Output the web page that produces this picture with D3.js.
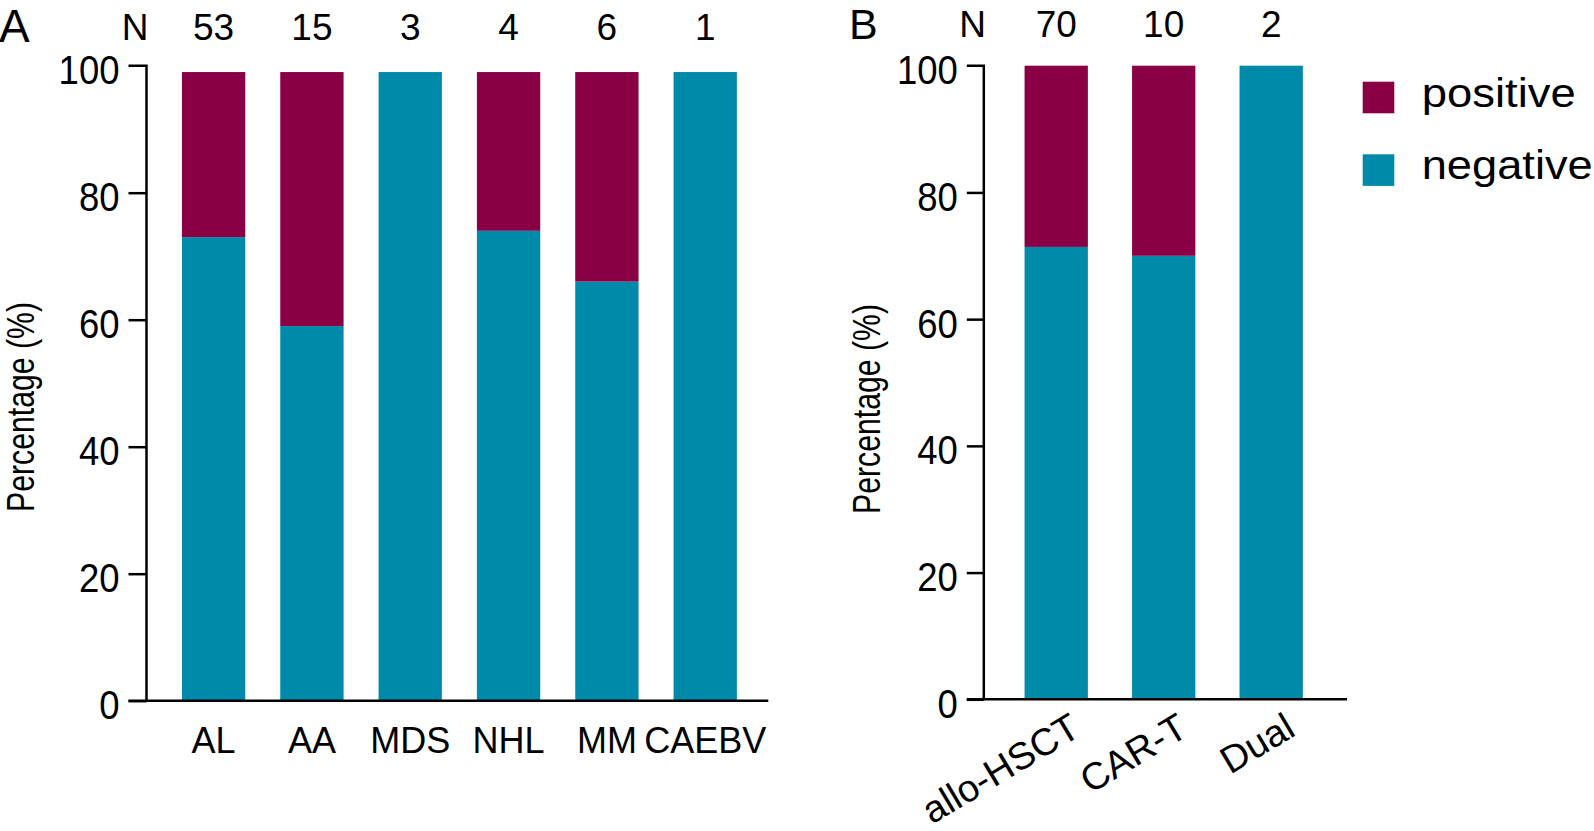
<!DOCTYPE html>
<html>
<head>
<meta charset="utf-8">
<script src="https://cdn.jsdelivr.net/npm/d3@7"></script>
<style>
  html, body { margin: 0; padding: 0; background: #fff; }
  svg { display: block; }
  text { font-family: "Liberation Sans", Arial, sans-serif; fill: #000; }
</style>
</head>
<body>
<svg id="chart" width="1594" height="831"></svg>
<script>
// ---- data ----
const catsA = ["AL", "AA", "MDS", "NHL", "MM", "CAEBV"];
const nA = [53, 15, 3, 4, 6, 1];
const negativeA = [73, 59, 99, 74, 66, 99];
const positiveA = [26, 40, 0, 25, 33, 0];

const catsB = ["allo-HSCT", "CAR-T", "Dual"];
const nB = [70, 10, 2];
const negativeB = [71.4, 70, 100];
const positiveB = [28.6, 30, 0];

const yTicks = [0, 20, 40, 60, 80, 100];
const seriesNames = ["positive", "negative"];
const colors = { positive: "#890045", negative: "#008aaa" };

const svg = d3.select("#chart");

function panel(opts) {
  const g = svg.append("g");
  const x = d3.scaleBand().domain(opts.cats).range([opts.x0, opts.x1])
    .paddingInner(opts.pi).paddingOuter(opts.po).align(opts.align);
  const y = d3.scaleLinear().domain([0, 100]).range([opts.y0, opts.y100]);

  const rows = opts.cats.map((c, i) => ({ cat: c, negative: opts.neg[i], positive: opts.pos[i] }));
  const stack = d3.stack().keys(["negative", "positive"])(rows);

  g.selectAll("g.layer").data(stack).join("g")
    .attr("fill", d => colors[d.key])
    .selectAll("rect").data(d => d).join("rect")
    .attr("x", d => x(d.data.cat))
    .attr("width", x.bandwidth())
    .attr("y", d => y(d[1]))
    .attr("height", d => Math.max(0, y(d[0]) - y(d[1])));

  // y axis
  const yAxis = d3.axisLeft(y).tickValues(yTicks).tickSize(opts.tick).tickPadding(9);
  const ya = g.append("g").attr("transform", `translate(${opts.x0},0)`).call(yAxis);
  ya.select(".domain").attr("d", `M0,${opts.y0}V${opts.y100}H${-opts.tick}`).attr("stroke-width", 2.5);
  ya.selectAll(".tick line").attr("stroke-width", 2.5);
  ya.selectAll(".tick text").attr("font-size", 40).attr("dy", "0.45em")
    .attr("textLength", d => String(d).length * 20.3).attr("lengthAdjust", "spacingAndGlyphs")
    .style("font-family", "'Liberation Sans', Arial, sans-serif").attr("fill", "#000");
  ya.selectAll(".tick").filter(d => d === 100).select("line").remove();

  // x axis line
  g.append("line").attr("x1", opts.x0 - opts.tick).attr("x2", opts.x1)
    .attr("y1", opts.y0).attr("y2", opts.y0).attr("stroke", "#000").attr("stroke-width", 2.5);

  // x labels
  const xl = g.append("g").selectAll("text").data(opts.cats).join("text")
    .attr("font-size", opts.xfs);
  if (opts.rotate) {
    xl.attr("text-anchor", "end")
      .attr("transform", d => `translate(${x(d) + x.bandwidth() / 2 + opts.rdx},${opts.ly}) rotate(${opts.rotate})`)
      .attr("dy", "0.72em")
      .text(d => d);
  } else {
    xl.attr("text-anchor", "middle")
      .attr("x", d => x(d) + x.bandwidth() / 2)
      .attr("y", opts.ly)
      .text(d => d);
  }

  // N row
  g.append("text").attr("x", opts.nx).attr("y", opts.ny).attr("text-anchor", "middle")
    .attr("font-size", 37).text("N");
  g.append("g").selectAll("text").data(opts.cats).join("text")
    .attr("x", d => x(d) + x.bandwidth() / 2).attr("y", opts.ny)
    .attr("text-anchor", "middle").attr("font-size", 37)
    .text((d, i) => opts.n[i]);

  // panel letter
  g.append("text").attr("x", opts.lx).attr("y", opts.lyb).attr("font-size", opts.lfs).text(opts.letter);

  // y title
  g.append("text").attr("transform", `translate(${opts.tx},${opts.ty}) rotate(-90)`)
    .attr("text-anchor", "middle").attr("font-size", 38)
    .attr("textLength", 210).attr("lengthAdjust", "spacingAndGlyphs")
    .text("Percentage (%)");
  return g;
}

panel({
  cats: catsA, neg: negativeA, pos: positiveA, n: nA,
  x0: 146.5, x1: 768.3, pi: 0.356, po: 0.34, align: 0.53,
  y0: 700.7, y100: 65.7, tick: 18, ly: 753.3, xfs: 36,
  nx: 135, ny: 40, letter: "A", lx: -1, lyb: 41.5, lfs: 46,
  tx: 34, ty: 407
});

panel({
  cats: catsB, neg: negativeB, pos: positiveB, n: nB,
  x0: 983.8, x1: 1347, pi: 0.411, po: 0.395, align: 0.48,
  y0: 699.3, y100: 65.7, tick: 17, ly: 711, rotate: -31, rdx: 12, xfs: 38,
  nx: 972.5, ny: 36.7, letter: "B", lx: 849, lyb: 39, lfs: 43,
  tx: 880, ty: 409
});

// legend
const leg = svg.append("g").selectAll("g").data(seriesNames).join("g")
  .attr("transform", (d, i) => `translate(1362.7,${81.7 + i * 72.6})`);
leg.append("rect").attr("width", 31.6).attr("height", 31.6).attr("fill", d => colors[d]);
leg.append("text").attr("x", 59).attr("y", 25).attr("font-size", 40)
  .attr("textLength", d => d === "positive" ? 154 : 171).attr("lengthAdjust", "spacingAndGlyphs")
  .text(d => d);
</script>
</body>
</html>
